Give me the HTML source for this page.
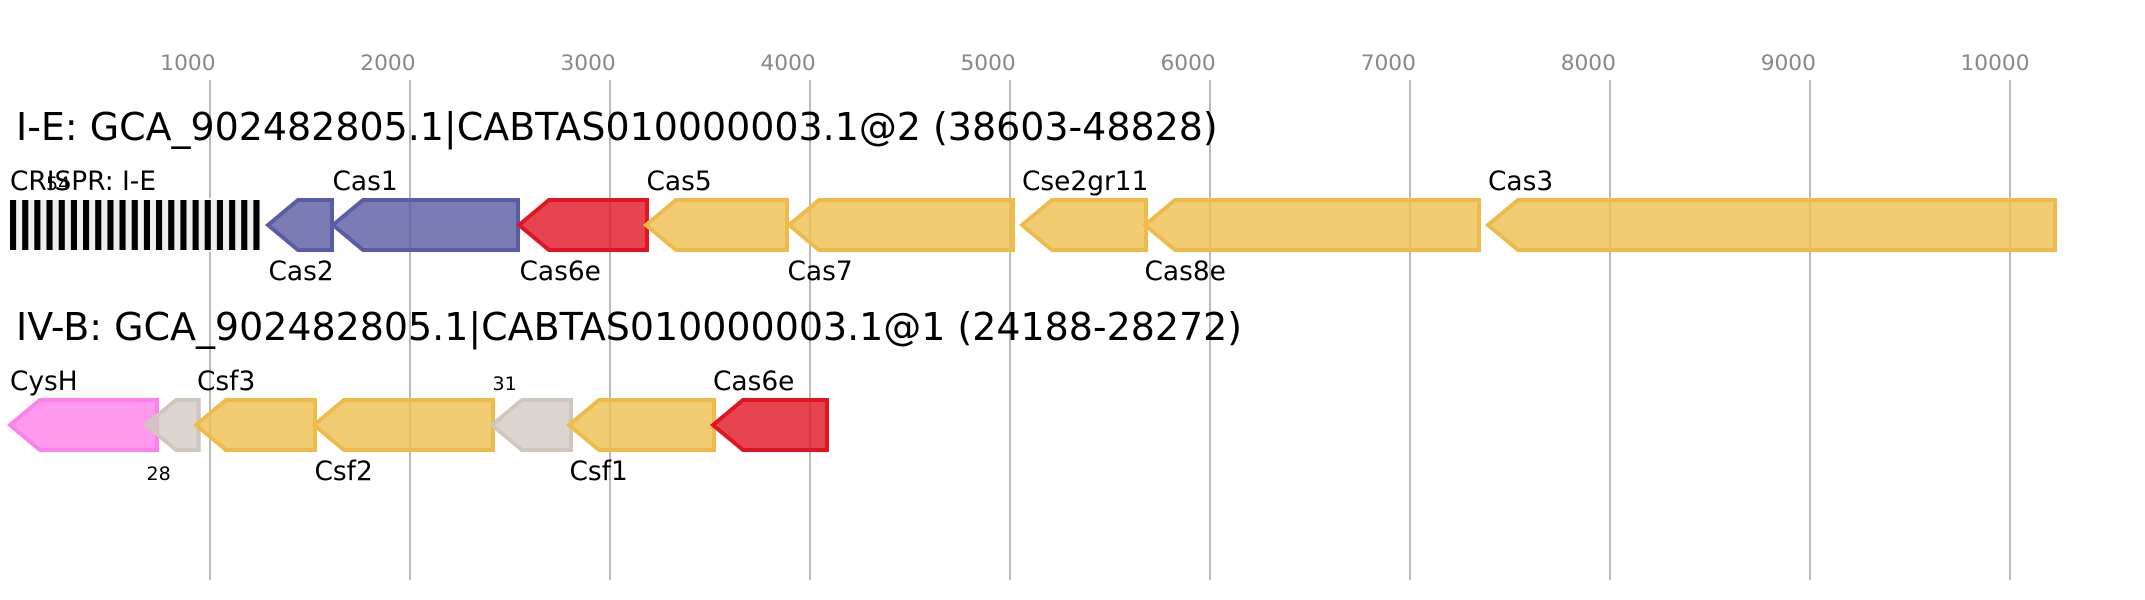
<!DOCTYPE html>
<html>
<head>
<meta charset="utf-8">
<style>
html,body{margin:0;padding:0;background:#fff;}
svg{display:block;}
text{font-family:"DejaVu Sans",sans-serif;}
.tick{font-size:21.7px;fill:#888;}
.title{font-size:37.95px;fill:#000;}
.lab{font-size:26.4px;fill:#000;}
.small{font-size:19px;fill:#000;}
.g{fill-opacity:.8;stroke-width:4;stroke-miterlimit:10;}
.b{fill:#5a5ba1;stroke:#5b5ca8;}
.r{fill:#e11527;stroke:#e11423;}
.y{fill:#edbf50;stroke:#eeba49;}
.p{fill:#ff80ea;stroke:#ff80ea;}
.n{fill:#d3c9c3;stroke:#cfc6bd;}
</style>
</head>
<body>
<svg width="2145" height="600" viewBox="0 0 2145 600" xmlns="http://www.w3.org/2000/svg">
<g stroke="#bbb" stroke-width="2">
<line x1="210" y1="80" x2="210" y2="580"/>
<line x1="410" y1="80" x2="410" y2="580"/>
<line x1="610" y1="80" x2="610" y2="580"/>
<line x1="810" y1="80" x2="810" y2="580"/>
<line x1="1010" y1="80" x2="1010" y2="580"/>
<line x1="1210" y1="80" x2="1210" y2="580"/>
<line x1="1410" y1="80" x2="1410" y2="580"/>
<line x1="1610" y1="80" x2="1610" y2="580"/>
<line x1="1810" y1="80" x2="1810" y2="580"/>
<line x1="2010" y1="80" x2="2010" y2="580"/>
</g>
<g class="tick">
<text x="160.3" y="70">1000</text>
<text x="360.3" y="70">2000</text>
<text x="560.5" y="70">3000</text>
<text x="760.5" y="70">4000</text>
<text x="960.5" y="70">5000</text>
<text x="1160.5" y="70">6000</text>
<text x="1360.7" y="70">7000</text>
<text x="1560.7" y="70">8000</text>
<text x="1760.7" y="70">9000</text>
<text x="1960.5" y="70">10000</text>
</g>
<text class="title" x="16" y="140">I-E: GCA_902482805.1|CABTAS010000003.1@2 (38603-48828)</text>
<text class="title" x="16" y="340">IV-B: GCA_902482805.1|CABTAS010000003.1@1 (24188-28272)</text>

<rect x="10" y="198" width="250" height="54" fill="#fff"/>
<rect x="10" y="200" width="250" height="50" fill="#eee"/>
<g fill="#000">
<rect x="10" y="200" width="6.1" height="50"/>
<rect x="22.2" y="200" width="6.1" height="50"/>
<rect x="34.3" y="200" width="6.1" height="50"/>
<rect x="46.5" y="200" width="6.1" height="50"/>
<rect x="58.7" y="200" width="6.1" height="50"/>
<rect x="70.9" y="200" width="6.1" height="50"/>
<rect x="83" y="200" width="6.1" height="50"/>
<rect x="95.2" y="200" width="6.1" height="50"/>
<rect x="107.4" y="200" width="6.1" height="50"/>
<rect x="119.5" y="200" width="6.1" height="50"/>
<rect x="131.7" y="200" width="6.1" height="50"/>
<rect x="143.9" y="200" width="6.1" height="50"/>
<rect x="156" y="200" width="6.1" height="50"/>
<rect x="168.2" y="200" width="6.1" height="50"/>
<rect x="180.4" y="200" width="6.1" height="50"/>
<rect x="192.6" y="200" width="6.1" height="50"/>
<rect x="204.7" y="200" width="6.1" height="50"/>
<rect x="216.9" y="200" width="6.1" height="50"/>
<rect x="229.1" y="200" width="6.1" height="50"/>
<rect x="241.2" y="200" width="6.1" height="50"/>
<rect x="253.4" y="200" width="6.1" height="50"/>
</g>
<text class="lab" x="10" y="190">CRISPR: I-E</text>
<text class="small" x="46" y="190">54</text>

<polygon class="g b" points="268,225 298,200 332,200 332,250 298,250"/>
<polygon class="g b" points="333,225 363,200 518,200 518,250 363,250"/>
<polygon class="g r" points="519,225 549,200 647,200 647,250 549,250"/>
<polygon class="g y" points="646,225 676,200 787,200 787,250 676,250"/>
<polygon class="g y" points="789,225 819,200 1013,200 1013,250 819,250"/>
<polygon class="g y" points="1022,225 1052,200 1146,200 1146,250 1052,250"/>
<polygon class="g y" points="1145,225 1175,200 1479,200 1479,250 1175,250"/>
<polygon class="g y" points="1488,225 1518,200 2055,200 2055,250 1518,250"/>
<text class="lab" x="268.5" y="280">Cas2</text>
<text class="lab" x="332.5" y="190">Cas1</text>
<text class="lab" x="519.5" y="280">Cas6e</text>
<text class="lab" x="646.5" y="190">Cas5</text>
<text class="lab" x="787.5" y="280">Cas7</text>
<text class="lab" x="1022" y="190">Cse2gr11</text>
<text class="lab" x="1144.5" y="280">Cas8e</text>
<text class="lab" x="1488" y="190">Cas3</text>

<polygon class="g p" points="10,425 40,400 157,400 157,450 40,450"/>
<polygon class="g n" points="146,425 176,400 198.7,400 198.7,450 176,450"/>
<polygon class="g y" points="196,425 226,400 315,400 315,450 226,450"/>
<polygon class="g y" points="314,425 344,400 493,400 493,450 344,450"/>
<polygon class="g n" points="492,425 522,400 571,400 571,450 522,450"/>
<polygon class="g y" points="569,425 599,400 714,400 714,450 599,450"/>
<polygon class="g r" points="713,425 743,400 827,400 827,450 743,450"/>
<text class="lab" x="10" y="390">CysH</text>
<text class="small" x="146.5" y="480">28</text>
<text class="lab" x="197" y="390">Csf3</text>
<text class="lab" x="314.5" y="480">Csf2</text>
<text class="small" x="492.5" y="390">31</text>
<text class="lab" x="569.5" y="480">Csf1</text>
<text class="lab" x="713" y="390">Cas6e</text>
</svg>
</body>
</html>
